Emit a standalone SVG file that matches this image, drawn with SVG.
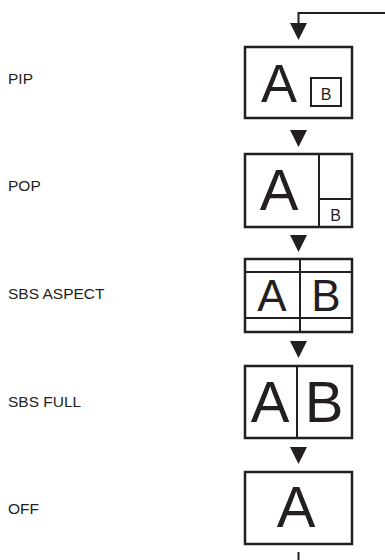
<svg xmlns="http://www.w3.org/2000/svg" width="385" height="560" viewBox="0 0 385 560">
<style>
.lbl{font-family:"Liberation Sans",Arial,sans-serif;font-size:15.5px;fill:#231f20}
.box{fill:#fff;stroke:#231f20;stroke-width:2.5}
.div{fill:none;stroke:#231f20;stroke-width:2}
.big{font-family:"Liberation Sans",Arial,sans-serif;fill:#231f20;text-anchor:middle}
.sm{font-family:"Liberation Sans",Arial,sans-serif;font-size:16px;fill:#231f20;text-anchor:middle}
.con{fill:none;stroke:#231f20;stroke-width:2}
.arr{fill:#231f20}
</style>
<rect width="385" height="560" fill="#fff"/>
<g id="connectors">
<path class="con" d="M298.5,24 V13 H386"/>
<path class="con" d="M298.5,552 V561"/>
<path class="arr" d="M290,23 H307 L298.5,40 Z"/>
<path class="arr" d="M290,130 H307 L298.5,147 Z"/>
<path class="arr" d="M290,235 H307 L298.5,252 Z"/>
<path class="arr" d="M290,341 H307 L298.5,358 Z"/>
<path class="arr" d="M290,447 H307 L298.5,464 Z"/>
</g>
<g id="pip">
<text class="lbl" x="8" y="84">PIP</text>
<rect class="box" x="245" y="47" width="107" height="71"/>
<text class="big" x="279" y="102" font-size="54">A</text>
<rect class="div" x="311" y="78" width="30" height="28"/>
<text class="sm" x="326" y="100">B</text>
</g>
<g id="pop">
<text class="lbl" x="8" y="191">POP</text>
<rect class="box" x="245" y="154" width="107" height="73"/>
<path class="div" d="M319,154 V227 M319,199 H352"/>
<text class="big" x="279" y="210" font-size="58">A</text>
<text class="sm" x="335.5" y="221">B</text>
</g>
<g id="sbs-aspect">
<text class="lbl" x="8" y="299">SBS ASPECT</text>
<rect class="box" x="245" y="259" width="107" height="73"/>
<path class="div" d="M245,272 H352 M245,318 H352 M300,259 V332"/>
<text class="big" x="272" y="311" font-size="44">A</text>
<text class="big" x="326" y="311" font-size="44">B</text>
</g>
<g id="sbs-full">
<text class="lbl" x="8" y="407">SBS FULL</text>
<rect class="box" x="245" y="366" width="107" height="72"/>
<path class="div" d="M297,366 V438"/>
<text class="big" x="270" y="422" font-size="58">A</text>
<text class="big" x="324" y="422" font-size="58">B</text>
</g>
<g id="off">
<text class="lbl" x="8" y="514">OFF</text>
<rect class="box" x="245" y="472" width="107" height="72"/>
<text class="big" x="296" y="527" font-size="58">A</text>
</g>
</svg>
